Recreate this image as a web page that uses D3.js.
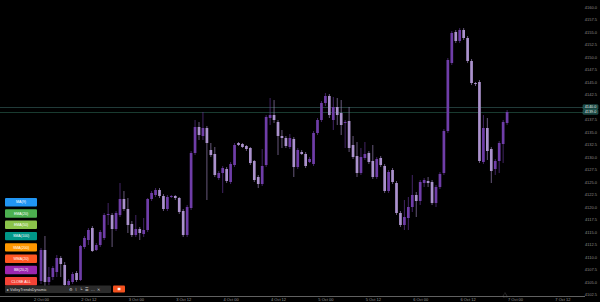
<!DOCTYPE html>
<html>
<head>
<meta charset="utf-8">
<script src="https://cdn.jsdelivr.net/npm/d3@7"></script>
<style>
  html, body { margin: 0; padding: 0; background: #000; }
  svg { display: block; font-family: "Liberation Sans", Arial, sans-serif; }
</style>
</head>
<body>
<svg id="chart" width="600" height="302"></svg>
<script>
// candles, oldest first (dark = up, light = down)
const opens = [4105.2,4111.4,4105.0,4106.0,4107.0,4109.8,4108.4,4104.4,4105.0,4106.8,
  4105.4,4112.0,4113.4,4115.8,4111.4,4112.4,4113.8,4118.4,4118.4,4115.6,
  4118.4,4121.6,4119.6,4116.6,4114.4,4115.6,4114.6,4115.4,4121.6,4122.4,
  4123.4,4122.2,4119.6,4122.0,4122.2,4121.8,4119.2,4114.4,4119.8,4130.8,
  4136.0,4134.2,4135.8,4131.4,4130.6,4125.8,4126.8,4127.6,4125.0,4128.4,
  4132.8,4132.6,4132.2,4131.8,4129.2,4126.0,4124.6,4128.4,4137.8,4138.4,
  4137.0,4134.2,4133.8,4132.0,4133.6,4128.0,4131.0,4130.6,4129.0,4128.6,
  4134.8,4137.4,4140.8,4142.2,4137.4,4140.0,4138.8,4136.8,4137.2,4132.4,
  4130.2,4126.8,4129.8,4130.8,4129.2,4126.0,4129.8,4128.2,4123.2,4127.4,
  4124.8,4118.8,4116.4,4117.8,4120.0,4122.4,4121.2,4124.8,4125.2,4125.0,
  4120.8,4124.0,4126.8,4135.2,4148.8,4155.0,4153.2,4155.4,4153.8,4149.2,
  4144.8,4145.0,4129.0,4135.8,4131.6,4127.6,4129.2,4132.6,4136.8];
const highs = [4111.8,4114.2,4108.0,4108.2,4110.4,4110.2,4109.0,4105.6,4107.0,4107.2,
  4112.4,4114.2,4115.8,4116.2,4112.8,4115.4,4118.8,4120.8,4118.8,4119.2,
  4124.8,4123.2,4121.8,4117.2,4118.4,4116.0,4117.8,4121.8,4123.2,4123.8,
  4123.8,4122.6,4122.4,4122.4,4122.4,4122.0,4119.6,4120.4,4131.2,4137.4,
  4137.0,4139.0,4136.2,4132.8,4132.0,4127.2,4128.2,4128.0,4129.0,4132.8,
  4133.0,4132.8,4132.4,4132.0,4129.4,4126.4,4131.6,4138.4,4141.8,4141.4,
  4137.4,4135.4,4134.2,4134.6,4134.0,4131.8,4131.4,4131.0,4130.0,4135.2,
  4137.8,4141.2,4142.8,4142.6,4142.0,4141.8,4141.4,4137.4,4140.0,4134.2,
  4133.0,4131.8,4133.0,4131.2,4132.4,4130.0,4130.2,4128.6,4127.4,4127.8,
  4125.2,4119.2,4121.4,4122.0,4126.4,4123.0,4125.4,4125.8,4126.0,4125.4,
  4124.4,4127.0,4135.6,4149.8,4155.2,4155.4,4155.8,4155.8,4154.2,4149.6,
  4145.0,4145.4,4138.4,4137.8,4132.0,4129.6,4133.2,4137.4,4139.4];
const lows = [4104.6,4104.2,4104.4,4105.4,4106.0,4106.0,4104.0,4104.0,4104.6,4105.0,
  4105.2,4111.6,4112.4,4111.0,4111.2,4112.0,4113.4,4116.4,4112.0,4115.2,
  4118.0,4119.2,4114.8,4114.0,4114.0,4113.4,4114.0,4115.0,4121.2,4122.0,
  4121.8,4119.2,4119.2,4121.8,4121.4,4118.6,4114.0,4114.0,4119.4,4130.4,
  4133.4,4133.4,4121.4,4130.0,4126.0,4125.4,4122.8,4124.8,4124.6,4128.0,
  4132.2,4131.8,4131.2,4128.4,4125.0,4123.8,4124.2,4128.0,4136.4,4136.8,
  4130.4,4131.8,4131.8,4131.6,4126.0,4127.6,4130.4,4127.8,4128.8,4128.2,
  4134.4,4137.0,4140.2,4137.8,4135.4,4136.4,4134.4,4131.8,4131.0,4129.6,
  4126.0,4126.4,4129.4,4128.6,4125.6,4125.6,4128.0,4122.8,4122.8,4124.6,
  4118.4,4116.0,4115.4,4115.4,4119.0,4118.0,4120.4,4124.0,4124.0,4120.4,
  4120.0,4123.6,4126.4,4134.8,4148.4,4152.8,4152.8,4153.4,4148.8,4144.4,
  4144.2,4128.8,4128.6,4129.4,4124.8,4126.4,4126.8,4128.8,4136.4];
const closes = [4111.4,4105.0,4106.0,4107.8,4109.8,4108.6,4104.4,4105.2,4106.6,4105.4,
  4112.2,4113.8,4115.4,4111.2,4112.4,4115.0,4118.4,4118.6,4115.6,4118.8,
  4121.6,4119.6,4116.4,4114.4,4115.6,4114.8,4115.4,4121.6,4122.8,4123.4,
  4122.2,4119.6,4122.0,4122.2,4121.8,4119.0,4114.4,4120.0,4130.8,4136.0,
  4134.4,4135.8,4132.8,4130.4,4126.4,4126.8,4127.8,4125.2,4128.6,4132.4,
  4132.4,4132.0,4131.6,4128.8,4125.4,4124.6,4128.2,4138.0,4138.4,4137.4,
  4134.2,4133.8,4132.2,4133.8,4128.0,4131.4,4130.6,4128.2,4129.6,4134.8,
  4137.4,4140.8,4142.2,4138.4,4140.0,4138.4,4136.4,4137.0,4131.8,4130.0,
  4126.8,4130.0,4130.6,4129.0,4126.0,4129.6,4128.4,4123.2,4127.0,4125.0,
  4118.8,4116.4,4118.0,4120.0,4122.4,4121.2,4125.0,4125.4,4124.8,4120.8,
  4124.0,4126.6,4135.2,4149.4,4154.8,4153.2,4155.4,4153.8,4149.2,4144.8,
  4144.6,4129.2,4135.8,4131.2,4127.2,4129.2,4132.8,4137.0,4139.0];

const timeLabels = ["2 Oct 00", "2 Oct 12", "3 Oct 00", "3 Oct 12", "4 Oct 00", "4 Oct 12",
  "5 Oct 00", "5 Oct 12", "6 Oct 00", "6 Oct 12", "7 Oct 00", "7 Oct 12"];
const priceTicks = d3.range(0, 24).map(i => 4160 - i * 2.5);
const priceLines = [4140.0, 4139.0];
const buttonLabels = ["MA(9)", "EMA(20)", "EMA(50)", "SMA(100)", "SMA(200)", "WMA(20)", "BB(20,2)", "CLOSE ALL"];
const buttonColors = ["#2196f3", "#4caf50", "#8bc34a", "#009688", "#ff9800", "#ff5722", "#9c27b0", "#f44336"];

const UP = "#6f3da8", DOWN = "#ab92cd";
const svg = d3.select("#chart");

const x = d3.scaleLinear().domain([0, 136]).range([41, 41 + 136 * 3.95]);
const y = d3.scaleLinear().domain([4161.4, 4101.4]).range([0, 300]);

const candles = opens.map((o, i) => ({i: i, o: o, h: highs[i], l: lows[i], c: closes[i]}));

// price lines
svg.selectAll(".pline").data(priceLines).enter().append("line")
  .attr("x1", 0).attr("x2", 584)
  .attr("y1", d => Math.round(y(d)) + 0.5).attr("y2", d => Math.round(y(d)) + 0.5)
  .attr("stroke", (d, i) => i ? "#1f4a3c" : "#2a4a48").attr("stroke-width", 0.8);

// candles
var g = svg.append("g");
g.selectAll(".wick").data(candles).enter().append("line")
  .attr("x1", d => x(d.i)).attr("x2", d => x(d.i))
  .attr("y1", d => y(d.h)).attr("y2", d => y(d.l))
  .attr("stroke", d => d.c >= d.o ? UP : DOWN).attr("stroke-width", 0.6);
g.selectAll(".body").data(candles).enter().append("rect")
  .attr("x", d => x(d.i) - 1.35).attr("width", 2.7)
  .attr("y", d => y(Math.max(d.o, d.c)))
  .attr("height", d => Math.max(0.8, Math.abs(y(d.o) - y(d.c))))
  .attr("fill", d => d.c >= d.o ? UP : DOWN);

// price axis
var yAxis = svg.append("g").attr("transform", "translate(597,0)")
  .call(d3.axisLeft(y).tickValues(priceTicks).tickSize(0).tickFormat(d3.format(".1f")));
yAxis.select(".domain").remove();
yAxis.selectAll("text").attr("x", 0).attr("fill", "#8e8e8e")
  .style("font-size", "4px").attr("text-anchor", "end");

// highlighted price labels
var tags = svg.selectAll(".tag").data(priceLines).enter().append("g")
  .attr("transform", d => "translate(583," + (y(d) - 2.3) + ")");
tags.append("rect").attr("width", 15).attr("height", 4.6).attr("rx", 0.8)
  .attr("fill", "#17403c").attr("stroke", "#3d8d84").attr("stroke-width", 0.4);
tags.append("text").attr("x", 7.5).attr("y", 2.3).attr("dy", "0.35em")
  .attr("text-anchor", "middle").attr("fill", "#e8f4f2").style("font-size", "3.8px")
  .text(d => d.toFixed(1));

// time axis
svg.append("line").attr("x1", 0).attr("x2", 585).attr("y1", 296.5).attr("y2", 296.5)
  .attr("stroke", "#8a8a8a").attr("stroke-width", 0.7);
var xAxis = svg.append("g").attr("transform", "translate(0,296)")
  .call(d3.axisBottom(x).tickValues(timeLabels.map((t, k) => k * 12)).tickSize(0)
    .tickFormat((d, k) => timeLabels[k]));
xAxis.select(".domain").remove();
xAxis.selectAll("text").attr("y", 2.2).attr("dy", "0.7em")
  .attr("fill", "#9a9a9a").style("font-size", "4px");
// current time marker
svg.append("path").attr("d", "M502.5,297 L505,292.5 L507.5,297 Z")
  .attr("fill", "none").attr("stroke", "#777").attr("stroke-width", 0.5)
  .attr("stroke-dasharray", "0.8,0.6");

// indicator buttons
var btn = svg.selectAll(".btn").data(buttonLabels).enter().append("g")
  .attr("transform", (d, i) => "translate(5," + (198 + i * 11.3) + ")");
btn.append("rect").attr("width", 32).attr("height", 8.4).attr("rx", 1)
  .attr("fill", (d, i) => buttonColors[i]);
btn.append("text").attr("x", 16).attr("y", 4.2).attr("dy", "0.35em")
  .attr("text-anchor", "middle").attr("fill", "#fff").style("font-size", "3.6px")
  .text(d => d);

// toolbar
var bar = svg.append("g").attr("transform", "translate(5,285.5)");
bar.append("rect").attr("width", 106).attr("height", 7.5).attr("rx", 1).attr("fill", "#2b2b2b");
bar.append("text").attr("x", 2).attr("y", 3.75).attr("dy", "0.35em")
  .attr("fill", "#d8d8d8").style("font-size", "3.8px").text("\u25B8 VolleyTrendsDynamic");
bar.append("text").attr("x", 64).attr("y", 3.75).attr("dy", "0.35em")
  .attr("fill", "#cfcfcf").style("font-size", "4.2px").attr("letter-spacing", "2.2px")
  .text("\u2699\u2307\u2514\u2630\u2026\u2715");
var stop = svg.append("g").attr("transform", "translate(113,285.5)");
stop.append("rect").attr("width", 12).attr("height", 7).attr("rx", 1).attr("fill", "#f4511e");
stop.append("rect").attr("x", 4.6).attr("y", 2.3).attr("width", 2.8).attr("height", 2.4).attr("fill", "#fff");
</script>
</body>
</html>
